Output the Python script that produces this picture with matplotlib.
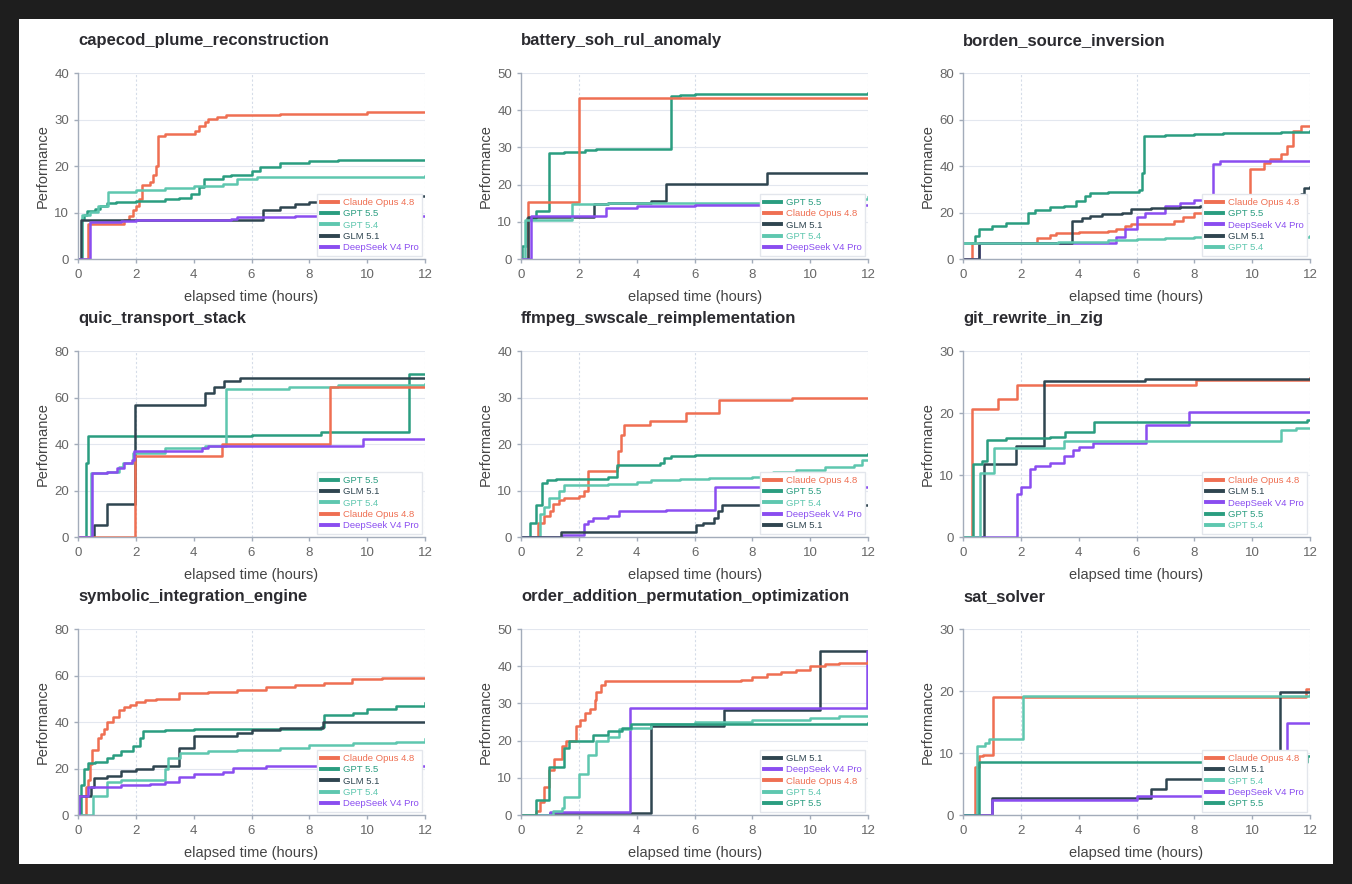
import matplotlib
matplotlib.use("Agg")
import matplotlib.pyplot as plt
from matplotlib.patches import Rectangle

plt.rcParams['font.family'] = ['Liberation Sans', 'DejaVu Sans']

# colours per model
colors = {
    "Claude Opus 4.8": "#EF6F52",
    "GPT 5.5": "#2A9D80",
    "GPT 5.4": "#5EC7AF",
    "GLM 5.1": "#2F4550",
    "DeepSeek V4 Pro": "#8A4DF0",
}

# each task: model -> (hours, best score so far), in legend order
capecod = {
    "Claude Opus 4.8": ([0, 0.35, 1.6, 1.75, 1.9, 2.0, 2.1, 2.2, 2.5, 2.6, 2.7, 2.75, 3.0, 4.05, 4.2, 4.4, 4.5, 4.8, 5.1, 7.0, 10.0, 12],
                        [0, 7.5, 8.3, 9.3, 10.5, 11.5, 13, 16, 16.5, 18, 20, 26.5, 26.8, 27.5, 28.5, 29.5, 30.2, 30.5, 31.0, 31.2, 31.6, 31.6]),
    "GPT 5.5": ([0, 0.15, 0.2, 0.3, 0.6, 0.75, 1.0, 1.3, 2.0, 3.0, 3.5, 3.9, 4.2, 4.35, 5.0, 5.3, 6.0, 6.3, 7.0, 8.0, 9.0, 12],
                [0, 8.5, 9.5, 10.3, 10.8, 11.5, 12, 12.2, 12.5, 12.8, 13.2, 14, 15.5, 17.3, 17.8, 18.0, 19, 19.8, 20.6, 21, 21.3, 21.3]),
    "GPT 5.4": ([0, 0.15, 0.4, 0.7, 1.05, 2.0, 3.0, 4.0, 5.0, 5.5, 6.2, 12],
                [0, 9.5, 10.2, 11.5, 14.4, 14.8, 15.3, 15.8, 16.2, 17.2, 17.7, 17.8]),
    "GLM 5.1": ([0, 0.12, 6.4, 7.0, 7.5, 8.0, 8.5, 11.8, 12],
                [0, 8.3, 10.5, 11.2, 11.8, 12.2, 12.5, 13.6, 13.6]),
    "DeepSeek V4 Pro": ([0, 0.42, 1.5, 2.0, 5.3, 5.5, 7.5, 8.0, 12],
                        [0, 8.0, 8.2, 8.3, 8.5, 9.0, 9.2, 9.3, 9.3]),
}

battery = {
    "GPT 5.5": ([0, 0.03, 0.2, 0.5, 0.97, 1.5, 2.2, 2.6, 5.18, 5.5, 6.0, 12],
                [0, 3.5, 11, 13, 28.6, 28.8, 29.2, 29.5, 43.9, 44.2, 44.3, 44.6]),
    "Claude Opus 4.8": ([0, 0.25, 2.0, 12], [0, 15.2, 43.4, 43.4]),
    "GLM 5.1": ([0, 0.25, 2.52, 3.0, 4.5, 5.0, 8.5, 12],
                [0, 11.2, 14.8, 15, 15.5, 20.2, 23.1, 23.1]),
    "GPT 5.4": ([0, 0.15, 1.75, 3.0, 9.0, 12], [0, 10.5, 14.8, 15, 16, 16.8]),
    "DeepSeek V4 Pro": ([0, 0.35, 2.95, 4.0, 6.0, 8.0, 12],
                        [0, 11.5, 13.8, 14.2, 14.4, 14.6, 14.6]),
}

borden = {
    "Claude Opus 4.8": ([0, 0.3, 2.55, 3.0, 3.2, 4.0, 5.0, 5.3, 5.6, 5.8, 7.3, 7.6, 8.0, 9.93, 10.4, 10.6, 11.0, 11.2, 11.4, 11.7, 12],
                        [0, 7, 8.9, 10.5, 11, 11.5, 12, 13, 14, 15, 16.5, 18, 20, 38.8, 41.5, 43, 45, 48.5, 55, 57, 57]),
    "GPT 5.5": ([0, 0.4, 0.55, 1.0, 1.5, 2.25, 2.5, 3.0, 3.5, 3.9, 4.2, 4.4, 5.0, 6.1, 6.2, 6.27, 7.0, 8.0, 9.0, 10.0, 11.0, 12],
                [7, 10, 13, 14, 15.5, 20, 21, 22.5, 23, 25, 27, 28.5, 28.8, 29.5, 37, 53.1, 53.3, 53.6, 54, 54.3, 54.8, 55.2]),
    "DeepSeek V4 Pro": ([0, 0.55, 5.3, 5.6, 6.0, 6.3, 7.0, 7.5, 8.0, 8.65, 8.9, 12],
                        [0, 7, 9.5, 13, 18, 20, 23, 24, 25.5, 41, 42.2, 42.2]),
    "GLM 5.1": ([0, 0.55, 3.78, 4.1, 4.4, 4.8, 5.5, 5.8, 6.5, 7.5, 8.2, 11.7, 11.8, 12],
                [0, 7, 16.5, 17.5, 18.5, 19.5, 20, 21.5, 22, 22.5, 23, 28, 30.5, 31]),
    "GPT 5.4": ([0, 3.3, 5.0, 6.0, 7.0, 8.0, 12], [7, 7.5, 8, 8.5, 9, 9.5, 9.8]),
}

quic = {
    "GPT 5.5": ([0, 0.28, 0.35, 6.0, 8.4, 11.45, 12], [0, 32, 43.5, 44, 45, 70, 70]),
    "GLM 5.1": ([0, 0.54, 1.0, 1.98, 4.38, 4.7, 5.05, 5.6, 12],
                [0, 5, 14.2, 57, 61.8, 64.5, 67, 68.3, 68.3]),
    "GPT 5.4": ([0, 0.45, 1.0, 1.4, 1.55, 1.9, 3.0, 4.4, 5.1, 7.3, 9.0, 12],
                [0, 27.5, 28, 30, 32, 36, 38.5, 39, 63.5, 64.5, 65.5, 65.8]),
    "Claude Opus 4.8": ([0, 1.98, 4.98, 8.71, 12], [0, 35, 40, 64.4, 64.4]),
    "DeepSeek V4 Pro": ([0, 0.5, 1.0, 1.35, 1.6, 1.85, 1.95, 4.3, 4.5, 9.85, 12],
                        [0, 27.5, 28, 29.5, 32, 33, 37, 38.5, 39.2, 42, 42]),
}

ffmpeg = {
    "Claude Opus 4.8": ([0, 0.57, 0.8, 1.0, 1.1, 1.3, 1.5, 2.0, 2.18, 2.3, 2.33, 3.3, 3.35, 3.45, 3.55, 4.47, 5.72, 6.84, 9.38, 12],
                        [0, 3, 4.5, 5.5, 7, 8, 8.5, 8.8, 10, 10.5, 14.3, 15, 18.5, 22, 24.1, 25, 26.6, 29.5, 30, 30]),
    "GPT 5.5": ([0, 0.31, 0.52, 0.72, 0.9, 1.2, 3.0, 3.31, 4.8, 4.95, 5.2, 6.0, 12],
                [0, 3, 6.9, 11.6, 12.3, 12.5, 13, 15.5, 16, 17, 17.5, 17.7, 17.8]),
    "GPT 5.4": ([0, 0.66, 0.8, 0.95, 1.3, 1.5, 3.0, 4.0, 4.5, 5.5, 6.5, 8.0, 8.7, 9.5, 10.5, 11.5, 11.8, 12],
                [0, 5, 6.5, 8.4, 10, 11.2, 11.5, 11.8, 12.2, 12.5, 12.8, 13, 14, 14.5, 15, 15.5, 16.5, 16.5]),
    "DeepSeek V4 Pro": ([0, 1.4, 2.18, 2.3, 2.5, 3.0, 3.4, 5.0, 6.71, 12],
                        [0, 0.4, 2.8, 3.5, 4, 4.5, 5.6, 5.8, 10.7, 10.7]),
    "GLM 5.1": ([0, 1.38, 6.04, 6.3, 6.66, 6.8, 6.95, 12],
                [0, 1.0, 2.5, 3, 4, 5.5, 6.8, 6.8]),
}

git_zig = {
    "Claude Opus 4.8": ([0, 0.32, 1.21, 1.87, 8.04, 12], [0, 20.7, 22.3, 24.5, 25.4, 25.6]),
    "GLM 5.1": ([0, 0.71, 1.84, 2.8, 6.3, 12], [0, 11.7, 14.7, 25.1, 25.5, 25.5]),
    "DeepSeek V4 Pro": ([0, 1.87, 2.0, 2.33, 2.5, 3.0, 3.5, 3.8, 4.0, 4.5, 6.33, 7.83, 12],
                        [0, 7, 8, 11, 11.5, 12, 13, 14, 14.5, 15.2, 18, 20.1, 20.1]),
    "GPT 5.5": ([0, 0.35, 0.65, 0.83, 1.5, 3.0, 3.54, 4.53, 11.9, 12],
                [0, 11.7, 12.3, 15.6, 16, 16.2, 17, 18.6, 18.9, 18.9]),
    "GPT 5.4": ([0, 0.6, 1.06, 3.5, 10.98, 11.5, 12], [0, 10.3, 14.3, 15.5, 17.3, 17.6, 17.6]),
}

symbolic = {
    "Claude Opus 4.8": ([0, 0.29, 0.35, 0.42, 0.5, 0.7, 0.8, 0.9, 1.0, 1.2, 1.4, 1.6, 1.8, 2.0, 2.3, 2.7, 3.5, 4.5, 5.5, 6.5, 7.5, 8.5, 9.46, 10.5, 12],
                        [0, 12, 15, 22, 28, 33, 35, 37, 40, 42, 45, 46.5, 47.5, 48.5, 49.5, 50, 52.6, 53, 54, 55, 56, 57, 58.5, 59, 59]),
    "GPT 5.5": ([0, 0.1, 0.2, 0.35, 0.6, 1.0, 1.2, 1.5, 1.9, 2.15, 2.25, 3.0, 4.0, 8.4, 8.5, 9.5, 10.0, 11.0, 12],
                [0, 13, 20, 22.2, 23, 24.5, 26, 27.5, 29.5, 33, 36.1, 36.5, 37, 38, 43, 44, 45.5, 47, 48]),
    "GLM 5.1": ([0, 0.05, 0.45, 0.54, 1.0, 1.5, 2.0, 2.6, 3.5, 4.0, 5.5, 6.0, 7.0, 8.48, 12],
                [0, 8, 12, 16, 17, 19, 20, 21, 28.7, 34.1, 35.5, 36.5, 37.5, 39.9, 39.9]),
    "GPT 5.4": ([0, 0.52, 1.0, 1.5, 3.0, 3.1, 3.54, 4.5, 5.5, 7.0, 8.0, 9.5, 11.0, 12],
                [0, 8.2, 14, 15, 20, 24.5, 26.8, 27.5, 28, 29, 30, 31, 31.5, 32.5]),
    "DeepSeek V4 Pro": ([0, 0.02, 0.35, 1.5, 2.5, 3.0, 3.5, 4.0, 5.0, 5.37, 6.5, 12],
                        [0, 8, 12.2, 13, 13.5, 14, 16.5, 17.5, 18.5, 20.1, 21, 21.3]),
}

order_addition = {
    "GLM 5.1": ([0, 1.0, 4.49, 7.01, 10.35, 12], [0, 0.6, 24, 28.2, 44.1, 44.1]),
    "DeepSeek V4 Pro": ([0, 1.0, 3.78, 11.95, 12], [0, 0.7, 28.7, 44, 44]),
    "Claude Opus 4.8": ([0, 0.5, 0.65, 0.8, 0.95, 1.15, 1.4, 1.55, 1.9, 2.05, 2.2, 2.4, 2.55, 2.6, 2.75, 2.91, 7.6, 8.0, 8.5, 9.0, 9.5, 10.0, 10.5, 11.0, 12],
                        [0, 1, 3.5, 7.5, 12, 15, 18.5, 20, 24, 25.5, 27.5, 28.5, 31, 33, 35, 36, 36.2, 37, 38, 38.5, 39, 40, 40.7, 41, 41.3]),
    "GPT 5.4": ([0, 1.1, 1.4, 1.5, 2.02, 2.31, 2.6, 3.0, 3.4, 3.8, 4.5, 6.0, 8.0, 10.0, 11.0, 12],
                [0, 1, 2, 4.9, 11, 16.1, 20, 21, 23, 23.5, 24.5, 25, 25.5, 26, 26.5, 26.5]),
    "GPT 5.5": ([0, 0.5, 0.95, 1.5, 1.65, 2.5, 3.0, 3.5, 3.8, 12],
                [0, 4, 13, 17.9, 20, 21.5, 22.5, 23.5, 24.5, 24.7]),
}

sat_solver = {
    "Claude Opus 4.8": ([0, 0.4, 0.55, 0.7, 1.04, 11.85, 12], [0, 7.8, 9.5, 9.7, 19, 20.3, 20.3]),
    "GLM 5.1": ([0, 1.0, 6.5, 7.02, 10.97, 12], [0, 2.7, 4.2, 5.75, 19.9, 19.9]),
    "GPT 5.4": ([0, 0.5, 0.75, 0.9, 2.07, 12], [0, 11.2, 11.6, 12.3, 19.2, 19.3]),
    "DeepSeek V4 Pro": ([0, 1.0, 6.0, 11.2, 12], [0, 2.4, 3.0, 14.9, 14.9]),
    "GPT 5.5": ([0, 0.55, 11.9, 12], [0, 8.5, 9.6, 9.6]),
}

tasks = [
    ("capecod_plume_reconstruction", capecod, 40),
    ("battery_soh_rul_anomaly", battery, 50),
    ("borden_source_inversion", borden, 80),
    ("quic_transport_stack", quic, 80),
    ("ffmpeg_swscale_reimplementation", ffmpeg, 40),
    ("git_rewrite_in_zig", git_zig, 30),
    ("symbolic_integration_engine", symbolic, 80),
    ("order_addition_permutation_optimization", order_addition, 50),
    ("sat_solver", sat_solver, 30),
]

fig = plt.figure(figsize=(13.52, 8.84), dpi=100, facecolor="#1E1E1E")
fig.patches.append(Rectangle((19 / 1352, 1 - 864 / 884), (1333 - 19) / 1352, (864 - 19) / 884,
                             transform=fig.transFigure, facecolor="white", edgecolor="none", zorder=-5))

lefts = [0.0577, 0.3854, 0.7123]
bottoms = [0.707, 0.3925, 0.078]
w, h = 0.2567, 0.2104

for i, (title, series, ymax) in enumerate(tasks):
    ax = fig.add_axes([lefts[i % 3], bottoms[i // 3], w, h])
    ax.set_facecolor("white")
    for name, (t, v) in series.items():
        ax.step(t, v, where="post", color=colors[name], lw=1.8, label=name)
    ax.set_xlim(0, 12)
    ax.set_ylim(0, ymax)
    ax.set_xticks(range(0, 13, 2))
    ax.set_yticks(range(0, ymax + 1, 10 if ymax <= 50 else 20))
    ax.grid(axis="y", color="#E3E7EF", lw=0.8)
    # vertical guides only at a few hours, as in the original
    for gx in [2, 6, 12]:
        ax.axvline(gx, color="#D5DCE8", lw=0.8, ls=(0, (2, 2)), zorder=0.5)
    ax.set_axisbelow(True)
    for s in ["top", "right"]:
        ax.spines[s].set_visible(False)
    for s in ["left", "bottom"]:
        ax.spines[s].set_color("#A3ACBA")
        ax.spines[s].set_linewidth(1.0)
    ax.tick_params(colors="#A3ACBA", labelcolor="#666666", labelsize=9.5, length=3, width=1)
    ax.tick_params(axis="x", pad=4.5)
    ax.set_xlabel("elapsed time (hours)", fontsize=10.5, color="#444444", labelpad=6)
    ax.set_ylabel("Performance", fontsize=10.5, color="#444444", labelpad=3)
    ax.set_title(title, loc="left", fontsize=12, fontweight="bold", color="#2B2B30", pad=20)
    leg = ax.legend(loc="lower right", fontsize=6.8, labelspacing=0.25, handlelength=1.8,
                    handletextpad=0.5, borderpad=0.4, borderaxespad=0.3, framealpha=1,
                    edgecolor="#E3E6EC", fancybox=False)
    for line, text in zip(leg.get_lines(), leg.get_texts()):
        line.set_linewidth(2.8)
        text.set_color(line.get_color())

fig.savefig("out.png", dpi=100, facecolor=fig.get_facecolor())
